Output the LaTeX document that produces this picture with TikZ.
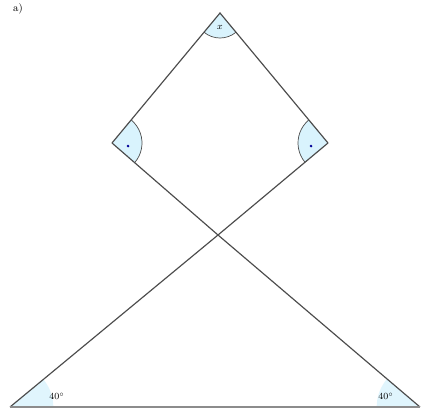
\documentclass[tikz,border=0pt]{standalone}
\usetikzlibrary{angles,quotes}
\tikzset{
  side/.style={draw=black!70,line width=1pt},
  anglemark/.style={draw=black!70,line width=0.6pt,fill=cyan!15},
  anglefill/.style={fill=cyan!12}
}
\begin{document}
\begin{tikzpicture}[x=0.03cm,y=-0.03cm]
   \useasboundingbox (0,0) rectangle (424,410);
   \coordinate (t) at (220,13);
   \coordinate (l) at (112,143);
   \coordinate (r) at (328,143);
   \coordinate (c) at (218,235);
   \coordinate (bl) at (10,407);
   \coordinate (br) at (420,407);

   \node[inner sep=1pt] (lab) at (18,9) {\small a)};

   % angle markers
   \pic[anglemark,angle radius=0.75cm] {angle=l--t--r};
   \pic[anglemark,angle radius=0.9cm] {angle=c--l--t};
   \pic[anglemark,angle radius=0.9cm] {angle=t--r--c};
   \pic[anglefill,draw=none,angle radius=1.3cm] {angle=br--bl--r};
   \pic[anglefill,draw=none,angle radius=1.3cm] {angle=l--br--bl};

   \node (x) at (220,27) {\footnotesize $x$};
   \node[circle,fill=blue!60!black,inner sep=0.9pt] (dl) at (128,146) {};
   \node[circle,fill=blue!60!black,inner sep=0.9pt] (dr) at (311,146) {};
   \node (al) at (57,396) {\footnotesize $40^\circ$};
   \node (ar) at (386,396) {\footnotesize $40^\circ$};

   % sides
   \draw[side] (l) -- (t) -- (r);
   \draw[side] (l) -- (c) -- (br);
   \draw[side] (r) -- (c) -- (bl);
   \draw[draw=black!45,line width=1.4pt] (bl) -- (br);
\end{tikzpicture}
\end{document}
